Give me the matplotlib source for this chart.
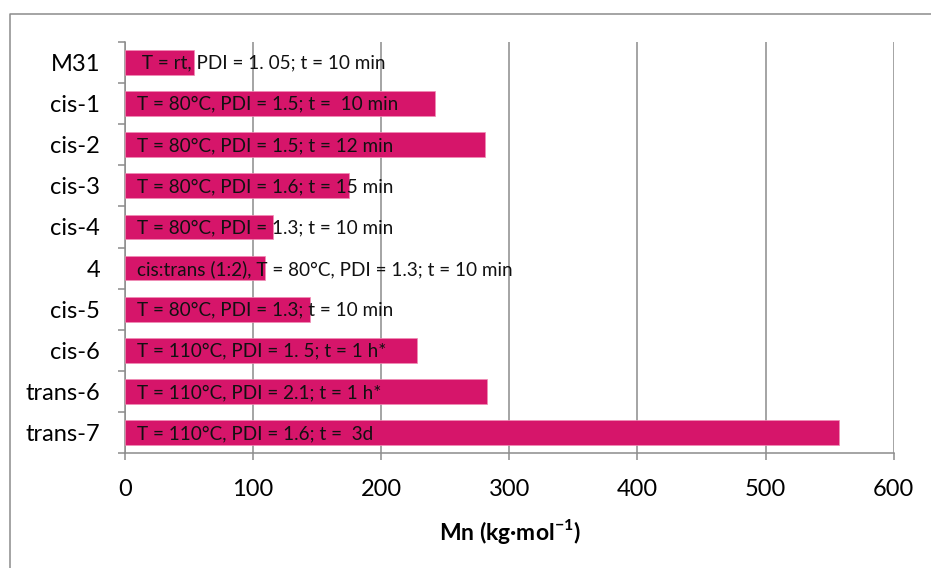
import matplotlib
matplotlib.use("Agg")
import matplotlib.pyplot as plt
from matplotlib.lines import Line2D
import numpy as np

plt.rcParams['font.family'] = ['Lato', 'DejaVu Sans']
plt.rcParams['mathtext.fontset'] = 'custom'
plt.rcParams['mathtext.rm'] = 'Lato:bold'
plt.rcParams['mathtext.bf'] = 'Lato:bold'

# Polymer samples, top to bottom
samples = ["M31", "cis-1", "cis-2", "cis-3", "cis-4", "4",
           "cis-5", "cis-6", "trans-6", "trans-7"]
# Number-average molar mass, kg/mol
mn_values = [53.8, 241.8, 281.3, 175.0, 115.9, 109.7,
             144.8, 228.0, 282.6, 557.0]
# Polymerisation conditions written on each bar
conditions = [
    " T = rt, PDI = 1. 05; t = 10 min",
    "T = 80°C, PDI = 1.5; t =  10 min",
    "T = 80°C, PDI = 1.5; t = 12 min",
    "T = 80°C, PDI = 1.6; t = 15 min",
    "T = 80°C, PDI = 1.3; t = 10 min",
    "cis:trans (1:2), T = 80°C, PDI = 1.3; t = 10 min",
    "T = 80°C, PDI = 1.3; t = 10 min",
    "T = 110°C, PDI = 1. 5; t = 1 h*",
    "T = 110°C, PDI = 2.1; t = 1 h*",
    "T = 110°C, PDI = 1.6; t =  3d",
]
x_ticks = [0, 100, 200, 300, 400, 500, 600]

BAR = "#D6156A"
GRID = "#8C8C8C"

W, H = 931, 568
fig = plt.figure(figsize=(W / 100, H / 100), dpi=100)
ax = fig.add_axes([124.7 / W, 1 - 453.3 / H, (893.7 - 124.7) / W, (453.3 - 41.7) / H])

pos = np.arange(len(samples))
ax.barh(pos, mn_values, height=0.6, color=BAR, edgecolor="#F08CB4",
        linewidth=0.5, zorder=3)

for p, v, txt in zip(pos, mn_values, conditions):
    ax.text(9.5, p + 0.02, txt, ha="left", va="center", fontsize=13.6,
            color="#111111", zorder=4)

ax.set_xlim(0, 600)
ax.set_ylim(len(samples) - 0.5, -0.5)
ax.set_xticks(x_ticks)
ax.set_xticklabels([str(t) for t in x_ticks])
ax.set_yticks(pos)
ax.set_yticklabels(samples)
ax.set_yticks(np.arange(len(samples) + 1) - 0.5, minor=True)

ax.tick_params(axis="y", which="major", length=0, pad=17.8, labelsize=17)
ax.tick_params(axis="y", which="minor", length=5, width=1.1, color=GRID)
ax.tick_params(axis="x", which="major", length=5, width=1.1, color=GRID,
               pad=13.5, labelsize=17)

ax.grid(axis="x", color=GRID, linewidth=1.1, zorder=0)
ax.set_axisbelow(True)
for s in ("top", "right"):
    ax.spines[s].set_visible(False)
for s in ("left", "bottom"):
    ax.spines[s].set_color(GRID)
    ax.spines[s].set_linewidth(1.1)

fig.text(510 / W, 1 - 531 / H, r"Mn (kg·mol$^{\mathregular{-1}}$)",
         ha="center", va="center", fontsize=16.5, fontweight="bold")

# Chart frame
fig.add_artist(Line2D([9.7 / W, 9.7 / W, 1.0], [0.0, 1 - 14.3 / H, 1 - 14.3 / H],
                      transform=fig.transFigure, color=GRID, linewidth=1.1))

fig.savefig("out.png", dpi=100)
